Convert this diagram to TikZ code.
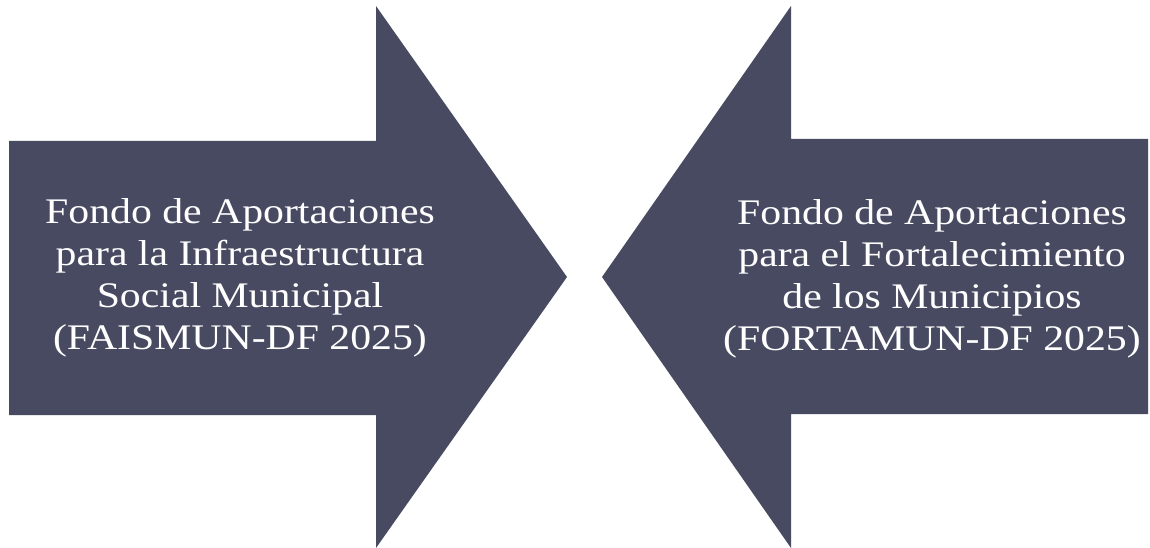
\documentclass[tikz,border=0pt]{standalone}
\usepackage{fontspec}
\setmainfont{Liberation Serif}[FakeStretch=1.16]
\usepackage{tikz}
\usetikzlibrary{positioning}
\definecolor{slate}{RGB}{72,74,98}

\begin{document}
\begin{tikzpicture}[x=1pt,y=-1pt,
  txt/.style={text=white,align=center,font=\fontsize{36}{42}\selectfont}]
\useasboundingbox (0,0) rectangle (1150,548);
\fill[color=slate] (9,141) -- (376,141) -- (376,6) -- (567,277) -- (376,548) -- (376,415) -- (9,415) -- cycle;
\fill[color=slate] (1148,139) -- (791,139) -- (791,6) -- (602,277) -- (791,548) -- (791,414) -- (1148,414) -- cycle;
\node (F1) at (240,278) [txt] {Fondo de Aportaciones\\para la Infraestructura\\Social Municipal\\(FAISMUN-DF 2025)};
\node (F2) at (932,279) [txt] {Fondo de Aportaciones\\para el Fortalecimiento\\de los Municipios\\(FORTAMUN-DF 2025)};
\end{tikzpicture}
\end{document}
